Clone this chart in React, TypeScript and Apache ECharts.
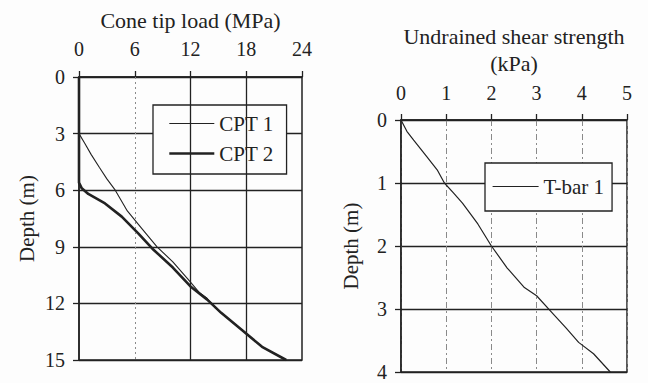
import React, { useEffect, useRef } from "react";
import * as echarts from "echarts";

// Cone penetration tests (left panel)
const cpt1Load = [0, 0, 0.6, 1.3, 2.2, 3.0, 3.9, 5.2, 6.7, 8.4, 10.1, 11.7, 13.0, 13.7, 14.7, 15.3, 17.5, 19.7, 22.3];
const cpt1Depth = [0, 3.0, 3.5, 4.1, 4.8, 5.4, 6.0, 7.1, 8.0, 9.0, 9.8, 10.7, 11.45, 11.7, 12.25, 12.5, 13.4, 14.3, 15.0];
const cpt2Load = [0, 0, 0.3, 1.0, 2.8, 4.6, 6.4, 7.9, 10.1, 12.0, 13.8, 15.3, 17.5, 19.7, 22.3];
const cpt2Depth = [0, 5.6, 5.9, 6.2, 6.7, 7.4, 8.3, 9.1, 10.1, 11.1, 11.8, 12.5, 13.4, 14.3, 15.0];

// T-bar test (right panel)
const tbarSu = [0, 0.13, 0.28, 0.57, 0.8, 0.96, 1.15, 1.36, 1.7, 2.0, 2.35, 2.73, 3.0, 3.37, 3.65, 3.93, 4.26, 4.63];
const tbarDepth = [0, 0.18, 0.32, 0.58, 0.79, 1.0, 1.15, 1.32, 1.65, 2.0, 2.35, 2.66, 2.79, 3.08, 3.3, 3.53, 3.71, 4.0];

// Vertical grid lines of the left panel
const leftDottedGrid = [6];
const leftSolidGrid = [12, 18];

const FONT = "'Liberation Serif', 'DejaVu Serif', serif";
const INK = "#222222";
const NOFILL = "rgba(0,0,0,0)";

const zip = (xs: number[], ys: number[]) => xs.map((x, i) => [x, ys[i]]);

export default function App() {
  const ref = useRef<HTMLDivElement>(null);
  useEffect(() => {
    document.body.style.margin = "0";
    if (!ref.current) return;
    const chart = echarts.init(ref.current, null, { renderer: "svg" });
    const axisText = { fontFamily: FONT, fontSize: 20, color: INK };
    const xNameText = { fontFamily: FONT, fontSize: 22, color: INK, lineHeight: 27 };
    const yNameText = { fontFamily: FONT, fontSize: 21, color: INK };
    const axisLine = { show: true, lineStyle: { color: INK, width: 1.5 } };
    const tick = { show: true, inside: false, length: 6, lineStyle: { color: INK, width: 1.3 } };
    const legendCommon = {
      orient: "vertical",
      itemWidth: 45, itemHeight: 14,
      backgroundColor: "#fdfdfd", borderColor: INK, borderWidth: 1.3, borderRadius: 0,
      itemStyle: { color: NOFILL, borderWidth: 0 },
      textStyle: { fontFamily: FONT, fontSize: 21, color: INK },
    };
    chart.setOption({
      animation: false,
      backgroundColor: "#fdfdfd",
      grid: [
        { left: 79, top: 77, width: 223, height: 283, show: true, borderColor: INK, borderWidth: 1.5, backgroundColor: "transparent" },
        { left: 401, top: 120, width: 226, height: 252, show: true, borderColor: INK, borderWidth: 1.5, backgroundColor: "transparent" },
      ],
      xAxis: [
        {
          gridIndex: 0, type: "value", position: "top", min: 0, max: 24, interval: 6,
          axisLine, axisTick: tick, axisLabel: { ...axisText, margin: 18 },
          splitLine: { show: false },
          name: "Cone tip load (MPa)", nameLocation: "middle", nameGap: 42, nameTextStyle: xNameText,
        },
        {
          gridIndex: 1, type: "value", position: "top", min: 0, max: 5, interval: 1,
          axisLine, axisTick: tick, axisLabel: { ...axisText, margin: 17 },
          splitLine: { show: true, lineStyle: { color: "#8a8a8a", width: 1, type: [6, 3, 2, 3] } },
          name: "Undrained shear strength\n(kPa)", nameLocation: "middle", nameGap: 43, nameTextStyle: xNameText,
        },
      ],
      yAxis: [
        {
          gridIndex: 0, type: "value", inverse: true, min: 0, max: 15, interval: 3,
          axisLine, axisTick: tick, axisLabel: { ...axisText, margin: 14 },
          splitLine: { show: true, lineStyle: { color: INK, width: 1.3 } },
          name: "Depth (m)", nameLocation: "middle", nameGap: 42, nameTextStyle: yNameText,
        },
        {
          gridIndex: 1, type: "value", inverse: true, min: 0, max: 4, interval: 1,
          axisLine, axisTick: tick, axisLabel: { ...axisText, margin: 14 },
          splitLine: { show: true, lineStyle: { color: INK, width: 1.3 } },
          name: "Depth (m)", nameLocation: "middle", nameGap: 40, nameTextStyle: yNameText,
        },
      ],
      legend: [
        {
          ...legendCommon,
          data: [
            { name: "CPT 1", lineStyle: { width: 1.1, color: INK } },
            { name: "CPT 2", lineStyle: { width: 2.6, color: INK } },
          ],
          left: 153, top: 105,
          padding: [8, 13, 10, 15], itemGap: 9,
        },
        {
          ...legendCommon,
          data: [{ name: "T-bar 1", lineStyle: { width: 1.2, color: INK } }],
          left: 485, top: 163,
          padding: [13, 8, 14, 7], itemWidth: 46,
        },
      ],
      series: [
        {
          name: "CPT 1", type: "line", xAxisIndex: 0, yAxisIndex: 0, symbol: "none",
          data: zip(cpt1Load, cpt1Depth), lineStyle: { color: INK, width: 1.1 },
          itemStyle: { color: NOFILL, borderWidth: 0 },
          markLine: {
            silent: true, symbol: "none", label: { show: false },
            data: [
              ...leftDottedGrid.map((v) => ({ xAxis: v, lineStyle: { type: [2, 3], color: "#8a8a8a", width: 1 } })),
              ...leftSolidGrid.map((v) => ({ xAxis: v, lineStyle: { type: "solid", color: INK, width: 1.3 } })),
            ],
          },
        },
        {
          name: "CPT 2", type: "line", xAxisIndex: 0, yAxisIndex: 0, symbol: "none", z: 3,
          data: zip(cpt2Load, cpt2Depth), lineStyle: { color: INK, width: 2.6 },
          itemStyle: { color: NOFILL, borderWidth: 0 },
        },
        {
          name: "T-bar 1", type: "line", xAxisIndex: 1, yAxisIndex: 1, symbol: "none",
          data: zip(tbarSu, tbarDepth), lineStyle: { color: INK, width: 1.2 },
          itemStyle: { color: NOFILL, borderWidth: 0 },
        },
      ],
    });
    return () => chart.dispose();
  }, []);
  return <div ref={ref} style={{ width: 648, height: 383 }} />;
}
